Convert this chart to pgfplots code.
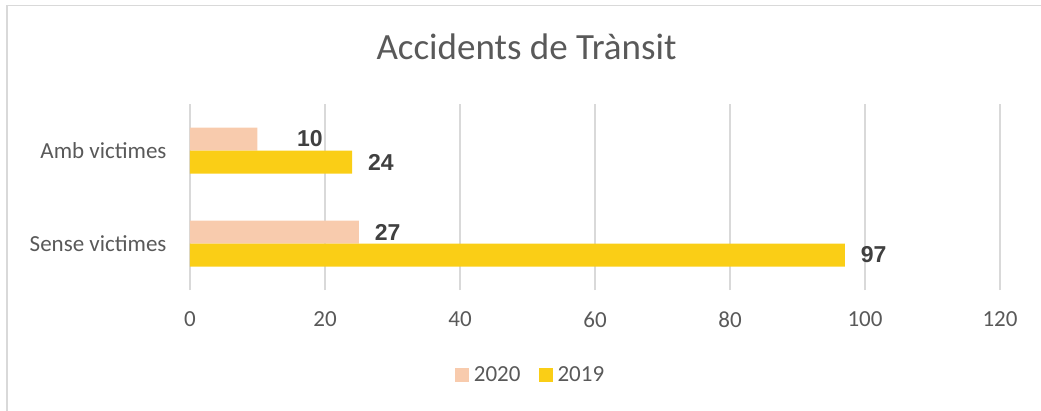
\documentclass[border=0pt]{standalone}
\usepackage{pgfplots}
\pgfplotsset{compat=1.18}
\usepackage{fontspec}
\setmainfont{Carlito}
\newfontfamily\arialf{Liberation Sans}
\definecolor{txt}{HTML}{595959}
\definecolor{lbl}{HTML}{404040}
\definecolor{gridc}{HTML}{D9D9D9}
\definecolor{peach}{HTML}{F8CBAD}
\definecolor{gold}{HTML}{FACE16}
\begin{document}
\begin{tikzpicture}
\path[use as bounding box] (-190pt,-120pt) rectangle (851pt,290pt);
\draw[gridc, line width=1.5pt] (-183pt,-121pt) -- (-183pt,284.5pt) -- (852pt,284.5pt);
\begin{axis}[
 scale only axis, width=810pt, height=186pt,
 xbar, bar width=23pt,
 xmin=0, xmax=120, ymin=-0.5, ymax=1.5,
 xtick={0,20,...,120}, ytick={0,1},
 yticklabels={Sense victimes, Amb victimes},
 xmajorgrids, grid style={gridc, line width=1.5pt},
 axis line style={draw=none}, major tick length=0pt,
 tick label style={font=\fontsize{23}{27}\selectfont, text=txt},
 /pgf/number format/assume math mode=true,
 xticklabel style={yshift=-18pt},
 yticklabel style={xshift=-20pt},
 nodes near coords, point meta=explicit symbolic,
 every node near coord/.style={anchor=west, inner sep=0pt, xshift=16pt,
   font=\arialf\bfseries\fontsize{23}{27}\selectfont, text=lbl},
 legend style={draw=none, fill=none, at={(0.4204,-0.457)}, anchor=center,
   font=\fontsize{23}{27}\selectfont, text=txt,
   /tikz/every even column/.append style={column sep=16pt}},
 legend columns=2,
 legend image code/.code={\fill[#1,draw=none] (0pt,-7pt) rectangle (14pt,7pt); \path (17pt,0pt);},
]
\addplot[fill=peach, draw=none, bar shift=11.5pt,
  every node near coord/.append style={yshift=11.5pt}]
  coordinates {(25,0) [27] (10,1) [\hspace*{23.5pt}10]};
\addplot[fill=gold, draw=none, bar shift=-11.5pt,
  every node near coord/.append style={yshift=-11.5pt}]
  coordinates {(97,0) [97] (24,1) [24]};
\legend{2020,2019}
\end{axis}
\node[font=\fontsize{37}{44}\selectfont, text=txt, anchor=base, inner sep=0pt] at (336.5pt,230pt) {Accidents de Trànsit};
\end{tikzpicture}
\end{document}
